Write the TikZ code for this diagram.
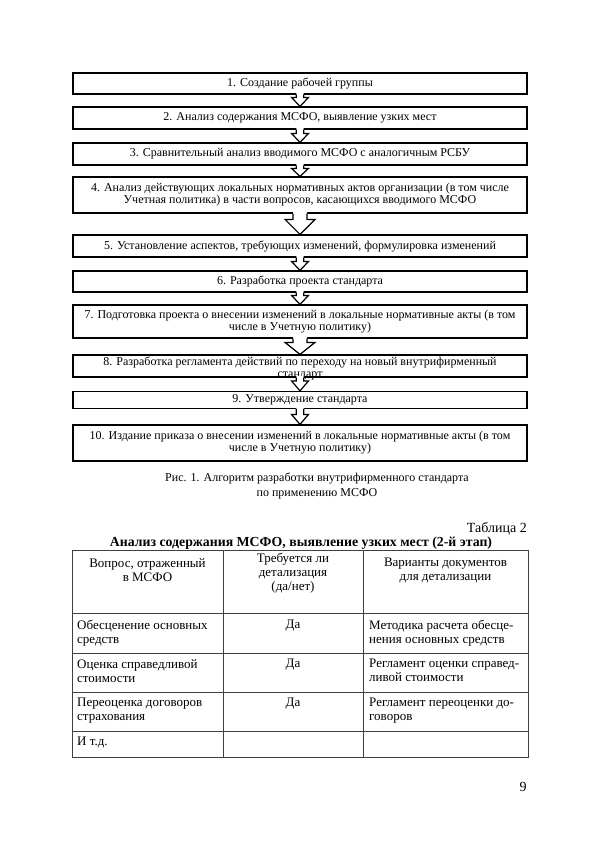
\documentclass[tikz,border=0pt]{standalone}
\usepackage{fontspec}
\setmainfont{Liberation Serif}
\usetikzlibrary{calc}
\newcommand\blockarrow[5]{%
  \fill[white] ($(#1.south)+(-#3,-1.5)$) -- ($(#2.north)+(-#3,-#5)$) -- ($(#2.north)+(-#4,-#5)$) -- (#2.north) -- ($(#2.north)+(#4,-#5)$) -- ($(#2.north)+(#3,-#5)$) -- ($(#1.south)+(#3,-1.5)$) -- cycle;
  \draw[arrline] ($(#1.south)+(-#3,0)$) -- ($(#2.north)+(-#3,-#5)$) -- ($(#2.north)+(-#4,-#5)$) -- (#2.north) -- ($(#2.north)+(#4,-#5)$) -- ($(#2.north)+(#3,-#5)$) -- ($(#1.south)+(#3,0)$);
}
\begin{document}
\begin{tikzpicture}[x=1pt,y=-1pt,
  stepbox/.style={draw, line width=1.2pt, minimum width=454pt, align=center, inner xsep=4pt, inner ysep=0pt, font=\fontsize{12}{12}\selectfont},
  arrline/.style={line width=1.2pt, line join=miter},
  tline/.style={line width=0.8pt, black!75},
  ttext/.style={font=\fontsize{13}{14}\selectfont, inner sep=0pt},
  captext/.style={font=\fontsize{12}{15}\selectfont, align=center, inner sep=0pt}
]
\useasboundingbox[fill=white] (0,0) rectangle (600,849);

% flowchart boxes
\node[stepbox, minimum height=21pt] (b1) at (300,83.5) {1. Создание рабочей группы};
\node[stepbox, minimum height=22pt] (b2) at (300,118) {2. Анализ содержания МСФО, выявление узких мест};
\node[stepbox, minimum height=22pt] (b3) at (300,154) {3. Сравнительный анализ вводимого МСФО с аналогичным РСБУ};
\node[stepbox, minimum height=36pt] (b4) at (300,195) {4. Анализ действующих локальных нормативных актов организации (в том числе\\Учетная политика) в части вопросов, касающихся вводимого МСФО};
\node[stepbox, minimum height=22pt] (b5) at (300,246) {5. Установление аспектов, требующих изменений, формулировка изменений};
\node[stepbox, minimum height=21pt] (b6) at (300,281.5) {6. Разработка проекта стандарта};
\node[stepbox, minimum height=33pt] (b7) at (300,321.5) {7. Подготовка проекта о внесении изменений в локальные нормативные акты (в том\\числе в Учетную политику)};
\node[stepbox, minimum height=22pt] (b8) at (300,366) {};
\node[font=\fontsize{12}{12}\selectfont, align=center, inner sep=0pt] (t8) at ($(b8.center)+(0,2.5)$) {8. Разработка регламента действий по переходу на новый внутрифирменный\\стандарт};
\node[stepbox, minimum height=17pt] (b9) at (300,400) {9. Утверждение стандарта};
\node[stepbox, minimum height=36pt] (b10) at (300,443) {10. Издание приказа о внесении изменений в локальные нормативные акты (в том\\числе в Учетную политику)};

% arrows
\blockarrow{b1}{b2}{3.7}{8.5}{9}
\blockarrow{b2}{b3}{3.7}{8.5}{9}
\blockarrow{b3}{b4}{3.7}{8.5}{8}
\blockarrow{b4}{b5}{7}{15}{15}
\blockarrow{b5}{b6}{3.7}{8.5}{9}
\blockarrow{b6}{b7}{3.7}{8.5}{9}
\blockarrow{b7}{b8}{7}{15}{12}
\blockarrow{b8}{b9}{3.7}{8.5}{10}
\blockarrow{b9}{b10}{3.7}{8.5}{10}

% caption
\node[captext] (cap1) at (317,485.5) {Рис. 1. Алгоритм разработки внутрифирменного стандарта\\по применению МСФО};

% table heading
\node[font=\fontsize{14}{16}\selectfont, anchor=east, inner sep=0pt] (tabn) at (527,528.5) {Таблица 2};
\node[font=\fontsize{13.8}{16}\selectfont\bfseries, inner sep=0pt] (tabt) at (301,543.5) {Анализ содержания МСФО, выявление узких мест (2-й этап)};

% table grid
\draw[tline] (72,550) rectangle (528,757);
\draw[tline] (223,550) -- (223,757);
\draw[tline] (363,550) -- (363,757);
\foreach \yy in {613,653,692,731} \draw[tline] (72,\yy) -- (528,\yy);

% header
\node[ttext, align=center] (h1) at (147.5,570.5) {Вопрос, отраженный\\в МСФО};
\node[ttext, align=center] (h2) at (293,573.5) {Требуется ли\\детализация\\(да/нет)};
\node[ttext, align=center] (h3) at (445.5,570.5) {Варианты документов\\для детализации};

% rows
\node[ttext, align=left, anchor=north west] (r1a) at (77,620) {Обесценение основных\\средств};
\node[ttext, anchor=north] (r1b) at (293,620) {Да};
\node[ttext, align=left, anchor=north west] (r1c) at (369,620) {Методика расчета обесце-\\нения основных средств};

\node[ttext, align=left, anchor=north west] (r2a) at (77,659) {Оценка справедливой\\стоимости};
\node[ttext, anchor=north] (r2b) at (293,659) {Да};
\node[ttext, align=left, anchor=north west] (r2c) at (369,659) {Регламент оценки справед-\\ливой стоимости};

\node[ttext, align=left, anchor=north west] (r3a) at (77,698) {Переоценка договоров\\страхования};
\node[ttext, anchor=north] (r3b) at (293,698) {Да};
\node[ttext, align=left, anchor=north west] (r3c) at (369,698) {Регламент переоценки до-\\говоров};

\node[ttext, align=left, anchor=north west] (r4a) at (77,737) {И т.д.};

% page number
\node[font=\fontsize{14}{16}\selectfont, inner sep=0pt] (pg) at (523,787) {9};
\end{tikzpicture}
\end{document}
